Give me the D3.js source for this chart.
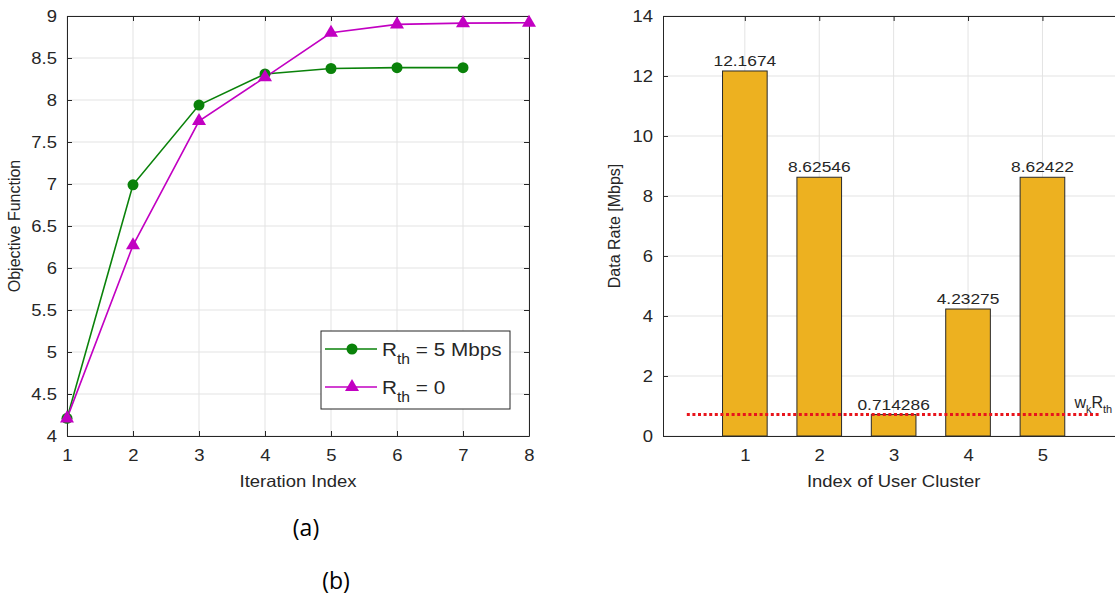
<!DOCTYPE html>
<html>
<head>
<meta charset="utf-8">
<script src="https://cdn.jsdelivr.net/npm/d3@7"></script>
<style>
  body { margin: 0; background: #fff; }
  text { font-family: "Liberation Sans", Arial, sans-serif; fill: #262626; }
  .grid line { stroke: #e3e3e3; stroke-width: 1; }
  .axis path, .axis line { stroke: #262626; }
</style>
</head>
<body>
<svg id="chart" width="1115" height="597"></svg>
<script>
// left panel: objective vs iteration
const iterations = [1, 2, 3, 4, 5, 6, 7, 8];
const objRth5 = [4.21, 6.99, 7.94, 8.31, 8.375, 8.385, 8.385];
const objRth0 = [4.21, 6.27, 7.75, 8.27, 8.80, 8.90, 8.915, 8.92];
const objTicks = [4, 4.5, 5, 5.5, 6, 6.5, 7, 7.5, 8, 8.5, 9];

// right panel: data rate per user cluster
const clusters = [1, 2, 3, 4, 5];
const dataRate = [12.1674, 8.62546, 0.714286, 4.23275, 8.62422];
const rateLabels = ['12.1674', '8.62546', '0.714286', '4.23275', '8.62422'];
const rateTicks = [0, 2, 4, 6, 8, 10, 12, 14];
const threshold = 0.714286;
const thresholdSpan = [0.22, 5.78];

const svg = d3.select('#chart');
const tickLen = 5;
const sx = 1.12; // source image is a bit wider than tall

function frameAxes(g, x, y, w, h, xTicks, yTicks) {
  // grid
  g.append('g').attr('class', 'grid')
    .selectAll('line').data(xTicks).join('line')
    .attr('x1', d => x(d)).attr('x2', d => x(d)).attr('y1', 0).attr('y2', h);
  g.append('g').attr('class', 'grid')
    .selectAll('line').data(yTicks).join('line')
    .attr('x1', 0).attr('x2', w).attr('y1', d => y(d)).attr('y2', d => y(d));

  g.append('g').attr('class', 'axis')
    .attr('transform', 'translate(0,' + h + ')')
    .call(d3.axisBottom(x).tickValues(xTicks).tickFormat(d3.format('d'))
      .tickSizeInner(-tickLen).tickSizeOuter(0).tickPadding(13))
    .call(a => a.selectAll('text').style('font-size', '16.5px').attr('transform', 'scale(' + sx + ',1)'));
  g.append('g').attr('class', 'axis')
    .call(d3.axisLeft(y).tickValues(yTicks).tickFormat(d3.format(''))
      .tickSizeInner(-tickLen).tickSizeOuter(0).tickPadding(9))
    .call(a => a.selectAll('text').style('font-size', '16.5px').attr('transform', 'scale(' + sx + ',1)'));
  g.append('g').attr('class', 'axis')
    .call(d3.axisTop(x).tickValues(xTicks).tickSizeInner(-tickLen).tickSizeOuter(0).tickFormat(''));
  g.append('g').attr('class', 'axis')
    .attr('transform', 'translate(' + w + ',0)')
    .call(d3.axisRight(y).tickValues(yTicks).tickSizeInner(-tickLen).tickSizeOuter(0).tickFormat(''));
}

function label(g, x, y, txt, size, anchor) {
  return g.append('text')
    .attr('transform', 'translate(' + x + ',' + y + ') scale(' + sx + ',1)')
    .attr('text-anchor', anchor || 'middle').style('font-size', size + 'px').text(txt);
}

// ---------- panel (a) ----------
const A = {left: 67, top: 16, width: 462, height: 420};
const ga = svg.append('g').attr('transform', 'translate(' + A.left + ',' + A.top + ')');
const xa = d3.scaleLinear().domain([1, 8]).range([0, A.width]);
const ya = d3.scaleLinear().domain([4, 9]).range([A.height, 0]);
frameAxes(ga, xa, ya, A.width, A.height, iterations, objTicks);

const green = '#0a820a';
const magenta = '#c200c2';
const lineA = d3.line().x((d, i) => xa(iterations[i])).y(d => ya(d));
const tri = d3.symbol().type(d3.symbolTriangle).size(85);

ga.append('path').datum(objRth5).attr('d', lineA)
  .attr('fill', 'none').attr('stroke', green).attr('stroke-width', 1.6);
ga.append('path').datum(objRth0).attr('d', lineA)
  .attr('fill', 'none').attr('stroke', magenta).attr('stroke-width', 1.6);
ga.selectAll('circle.m').data(objRth5).join('circle')
  .attr('cx', (d, i) => xa(iterations[i])).attr('cy', d => ya(d)).attr('r', 5.5)
  .attr('fill', green);
ga.selectAll('path.t').data(objRth0).join('path')
  .attr('d', tri)
  .attr('transform', (d, i) => 'translate(' + xa(iterations[i]) + ',' + ya(d) + ')')
  .attr('fill', magenta);

label(ga, A.width / 2, A.height + 51, 'Iteration Index', 16.5);
ga.append('text').attr('transform', 'translate(-47,' + (A.height / 2) + ') rotate(-90)')
  .attr('text-anchor', 'middle').style('font-size', '16px').text('Objective Function');

// legend
const lg = svg.append('g').attr('transform', 'translate(321,331)');
lg.append('rect').attr('width', 189).attr('height', 78)
  .attr('fill', '#fff').attr('stroke', '#262626').attr('stroke-width', 1);
const legendItems = [
  {color: green, shape: 'circle', text: ' = 5 Mbps', y: 18},
  {color: magenta, shape: 'tri', text: ' = 0', y: 56}
];
legendItems.forEach(it => {
  lg.append('line').attr('x1', 4).attr('x2', 56).attr('y1', it.y).attr('y2', it.y)
    .attr('stroke', it.color).attr('stroke-width', 1.6);
  if (it.shape === 'circle') {
    lg.append('circle').attr('cx', 31).attr('cy', it.y).attr('r', 5.5).attr('fill', it.color);
  } else {
    lg.append('path').attr('d', tri).attr('transform', 'translate(31,' + it.y + ')').attr('fill', it.color);
  }
  const t = lg.append('text')
    .attr('transform', 'translate(61,' + (it.y + 7) + ') scale(' + sx + ',1)')
    .style('font-size', '18.5px');
  t.append('tspan').text('R');
  t.append('tspan').attr('dy', 8).style('font-size', '14px').text('th');
  t.append('tspan').attr('dy', -8).text(it.text);
});

// ---------- panel (b) ----------
const B = {left: 663, top: 16, width: 74.4 * 6.2, height: 420};
const gb = svg.append('g').attr('transform', 'translate(' + B.left + ',' + B.top + ')');
const xb = d3.scaleLinear().domain([-0.1, 6.1]).range([0, B.width]);
const yb = d3.scaleLinear().domain([0, 14]).range([B.height, 0]);
frameAxes(gb, xb, yb, B.width, B.height, clusters, rateTicks);

const barW = 0.6;
gb.selectAll('rect.bar').data(dataRate).join('rect')
  .attr('x', (d, i) => xb(clusters[i] - barW / 2))
  .attr('width', xb(barW) - xb(0))
  .attr('y', d => yb(d))
  .attr('height', d => yb(0) - yb(d))
  .attr('fill', '#edb120').attr('stroke', '#2a2a2a').attr('stroke-width', 1);

rateLabels.forEach((txt, i) => label(gb, xb(clusters[i]), yb(dataRate[i]) - 5, txt, 15.5));

gb.append('line')
  .attr('x1', xb(thresholdSpan[0])).attr('x2', xb(thresholdSpan[1]))
  .attr('y1', yb(threshold)).attr('y2', yb(threshold))
  .attr('stroke', '#e8141c').attr('stroke-width', 3).attr('stroke-dasharray', '3,2.6');

const wk = gb.append('text').attr('x', xb(5.43)).attr('y', yb(threshold) - 7).style('font-size', '16px');
wk.append('tspan').text('w');
wk.append('tspan').attr('dy', 5).style('font-size', '11px').text('k');
wk.append('tspan').attr('dy', -5).text('R');
wk.append('tspan').attr('dy', 5).style('font-size', '11px').text('th');

label(gb, xb(3), B.height + 51, 'Index of User Cluster', 16.5);
gb.append('text').attr('transform', 'translate(-43,' + (B.height / 2) + ') rotate(-90)')
  .attr('text-anchor', 'middle').style('font-size', '16px').text('Data Rate [Mbps]');

// captions
svg.append('text').attr('x', 306).attr('y', 536).attr('text-anchor', 'middle')
  .style('font-family', '"Open Sans", Carlito, sans-serif').style('font-size', '23px').style('fill', '#000').text('(a)');
svg.append('text').attr('x', 336).attr('y', 589).attr('text-anchor', 'middle')
  .style('font-family', '"Open Sans", Carlito, sans-serif').style('font-size', '23px').style('fill', '#000').text('(b)');
</script>
</body>
</html>
